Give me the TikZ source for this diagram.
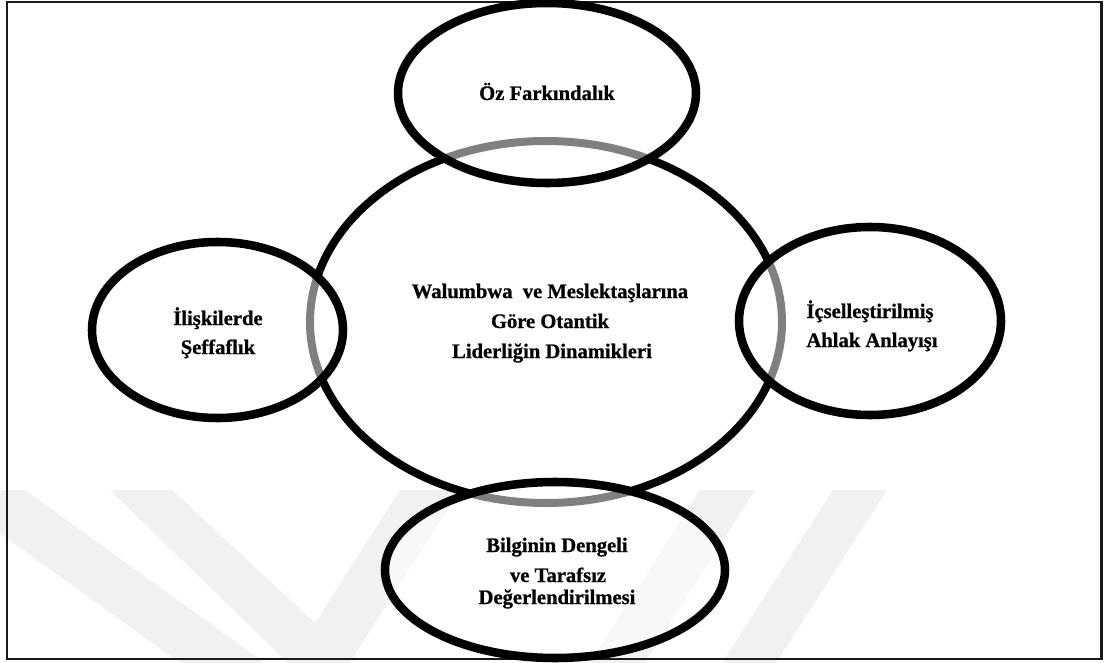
\documentclass[tikz,border=0pt]{standalone}
\usepackage{fontspec}
\setmainfont{Liberation Serif}[BoldFont={Liberation Serif Bold}, BoldFeatures={FakeBold=0.8}]
\usetikzlibrary{shapes.geometric}
\definecolor{wmgray}{RGB}{241,241,241}
\tikzset{
  core/.style={ellipse, draw=black, line width=6pt, inner sep=0pt},
  facet/.style={ellipse, draw=black, line width=6.4pt, inner sep=0pt,
                fill=white, fill opacity=0.5, draw opacity=1},
  caption/.style={anchor=base, inner sep=0pt, text opacity=1,
                  font=\fontsize{15.45pt}{18pt}\selectfont\bfseries},
  frame/.style={draw=black!90, line width=1.6pt},
  watermark/.style={fill=wmgray, draw=none}
}
\begin{document}
\begin{tikzpicture}[x=0.75pt, y=-0.75pt]
\useasboundingbox (0,0) rectangle (1107,663);

% faint background stripes
\begin{scope}
  \clip (0,0) rectangle (1107,663);
  \fill[watermark] (-60,490) -- (25,490) -- (265,663) -- (180,663) -- cycle;
  \fill[watermark] (110,490) -- (172,490) -- (315,623) -- (400,490) -- (460,490)
                   -- (326,700) -- cycle;
  \fill[watermark] (700,490) -- (755,490) -- (645,663) -- (590,663) -- cycle;
  \fill[watermark] (833,490) -- (887,490) -- (776,663) -- (722,663) -- cycle;
\end{scope}

% outer frame
\node[frame, rectangle, minimum width=820.9pt, minimum height=492.75pt, inner sep=0pt]
  (box) at (554.25,330.5) {};

% central ellipse
\node[core, minimum width=354pt, minimum height=271.5pt] (centre) at (546,322) {};

% surrounding ellipses
\node[facet, minimum width=223.5pt, minimum height=135pt]  (self)     at (547,93)    {};
\node[facet, minimum width=188.25pt, minimum height=132pt] (relation) at (217.5,330) {};
\node[facet, minimum width=196.5pt, minimum height=141pt]  (moral)    at (870,321)   {};
\node[facet, minimum width=255pt, minimum height=132pt]    (balance)  at (555,570)   {};

% labels
\node[caption] (t1) at (547,100) {Öz Farkındalık};

\node[caption] (c1) at (550,298) {Walumbwa\ \ ve Meslektaşlarına};
\node[caption] (c2) at (550,328) {Göre Otantik};
\node[caption] (c3) at (552,358) {Liderliğin Dinamikleri};

\node[caption] (l1) at (218,325) {İlişkilerde};
\node[caption] (l2) at (218,354) {Şeffaflık};

\node[caption] (r1) at (870,318) {İçselleştirilmiş};
\node[caption] (r2) at (872,347) {Ahlak Anlayışı};

\node[caption] (b1) at (557,552) {Bilginin Dengeli};
\node[caption] (b2) at (558,582) {ve Tarafsız};
\node[caption] (b3) at (557,604) {Değerlendirilmesi};
\end{tikzpicture}
\end{document}
